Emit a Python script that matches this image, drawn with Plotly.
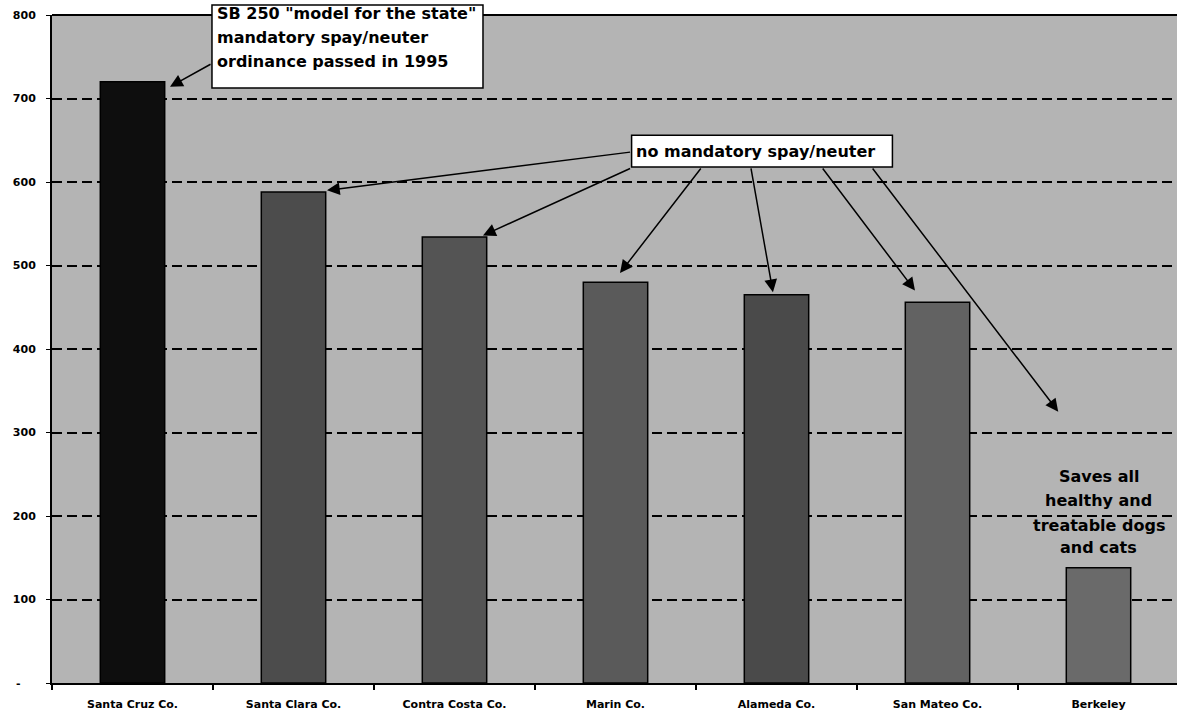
import plotly.graph_objects as go

# ---- data ----
categories = ["Santa Cruz Co.", "Santa Clara Co.", "Contra Costa Co.", "Marin Co.",
              "Alameda Co.", "San Mateo Co.", "Berkeley"]
values = [720, 588, 534, 480, 465, 456, 138]
bar_colors = ["#0e0e0e", "#4c4c4c", "#545454", "#5a5a5a", "#4a4a4a", "#626262", "#6a6a6a"]
y_tickvals = [0, 100, 200, 300, 400, 500, 600, 700, 800]
y_ticktext = ["-\u00a0\u00a0\u00a0\u00a0", "100", "200", "300", "400", "500", "600", "700", "800"]

box1_lines = ['SB 250 "model for the state"', "mandatory spay/neuter", "ordinance passed in 1995"]
box2_text = "no mandatory spay/neuter"
berkeley_lines = ["Saves all", "healthy and", "treatable dogs", "and cats"]

FONT = "DejaVu Sans, Verdana, sans-serif"

fig = go.Figure()
fig.add_trace(go.Bar(
    x=categories, y=values, width=0.4,
    marker=dict(color=bar_colors, line=dict(color="black", width=1.5)),
    showlegend=False,
))

shapes = []
annotations = []

# top border of the plot area
shapes.append(dict(type="line", xref="paper", yref="paper", x0=0, x1=1, y0=1, y1=1,
                   line=dict(color="black", width=2), layer="above"))

# annotation box 1 (extends above the plot area)
shapes.append(dict(type="rect", xref="paper", yref="paper", x0=0.1422, x1=0.3831, y0=0.8907, y1=1.015,
                   fillcolor="white", line=dict(color="black", width=1.5), layer="above"))
for txt, yy in zip(box1_lines, [1.0015, 0.967, 0.931]):
    annotations.append(dict(x=0.1449, y=yy, xref="paper", yref="paper", text="<b>" + txt + "</b>",
                            showarrow=False, xanchor="left", yanchor="middle",
                            font=dict(family=FONT, size=16, color="black")))

# annotation box 2
shapes.append(dict(type="rect", xref="x", yref="y", x0=3.10, x1=4.72, y0=618, y1=656,
                   fillcolor="white", line=dict(color="black", width=1.5), layer="above"))
annotations.append(dict(x=3.115, y=637, xref="x", yref="y", text="<b>" + box2_text + "</b>",
                        showarrow=False, xanchor="left", yanchor="middle",
                        font=dict(family=FONT, size=16, color="black")))

# Berkeley text
for txt, yy in zip(berkeley_lines, [247, 219, 189, 162]):
    annotations.append(dict(x=6.0, y=yy, xref="x", yref="y", text="<b>" + txt + "</b>",
                            showarrow=False, xanchor="center", yanchor="middle",
                            font=dict(family=FONT, size=16, color="black")))

# arrows: (tip_x, tip_y, tail_x, tail_y)
arrows = [
    (0.233, 714, 0.494, 742),
    (1.208, 590, 3.10, 636),
    (2.177, 536, 3.10, 617),
    (3.028, 491, 3.537, 618),
    (3.978, 468, 3.84, 618),
    (4.86, 470, 4.28, 618),
    (5.75, 325, 4.59, 618),
]
for tx, ty, sx, sy in arrows:
    annotations.append(dict(x=tx, y=ty, ax=sx, ay=sy, xref="x", yref="y", axref="x", ayref="y",
                            text="", showarrow=True, arrowhead=2, arrowsize=1.7, arrowwidth=1.5,
                            arrowcolor="black", standoff=0, startstandoff=0))

fig.update_layout(
    width=1177, height=714, autosize=False,
    margin=dict(l=52, r=0, t=15, b=31),
    paper_bgcolor="white", plot_bgcolor="#b4b4b4",
    bargap=0.6,
    shapes=shapes, annotations=annotations,
    font=dict(family=FONT, color="black"),
    xaxis=dict(
        type="category", range=[-0.5, 6.4876],
        showline=True, linecolor="black", linewidth=2,
        ticks="outside", tickson="boundaries", ticklen=5, tickcolor="black", tickwidth=1.5,
        showgrid=False, tickfont=dict(family=FONT, size=11, color="black"),
        tickvals=categories, ticktext=["<b>" + c + "</b>" for c in categories],
        ticklabelstandoff=10,
    ),
    yaxis=dict(
        range=[0, 800], tickvals=y_tickvals,
        ticktext=["<b>" + t + "</b>" for t in y_ticktext],
        showline=True, linecolor="black", linewidth=2,
        ticks="outside", ticklen=4, tickcolor="black",
        showgrid=True, gridcolor="black", gridwidth=2, griddash="10px,5px",
        zeroline=False, tickfont=dict(family=FONT, size=11, color="black"),
        ticklabelstandoff=8,
    ),
)

fig.write_html("out.html")
